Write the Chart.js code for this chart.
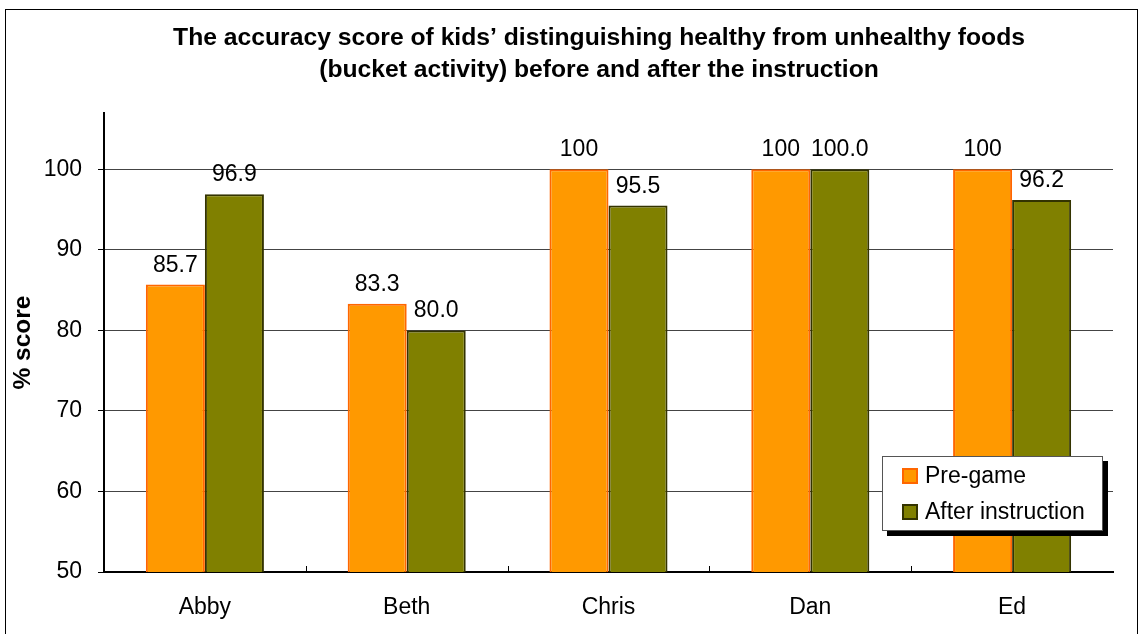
<!DOCTYPE html>
<html lang="en">
<head>
    <meta charset="UTF-8">
    <title>Bucket activity accuracy</title>
    <script src="https://cdn.jsdelivr.net/npm/chart.js"></script>
    <style>
        body {
            margin: 0;
            background: #fff;
            font-family: "Liberation Sans", Arial, sans-serif;
        }
        .wrap {
            position: relative;
            width: 1139px;
            height: 634px;
        }
        .legend {
            position: absolute;
            left: 882px;
            top: 456px;
            width: 219px;
            height: 73px;
            border: 1px solid #555;
            background: #fff;
            box-shadow: 5px 5px 0 #000;
            font-size: 23px;
            color: #000;
        }
        .legend .item {
            position: absolute;
            left: 19px;
            height: 26px;
            line-height: 26px;
            white-space: nowrap;
        }
        .legend .sw {
            display: inline-block;
            width: 12px;
            height: 12px;
            border: 2px solid;
            margin-right: 7px;
            vertical-align: -1px;
        }
    </style>
</head>
<body>
    <div class="wrap">
        <canvas id="scoreChart"></canvas>
        <div class="legend">
            <div class="item" style="top:5px"><span class="sw" style="background:#FF9900;border-color:#FF6600"></span>Pre-game</div>
            <div class="item" style="top:41px"><span class="sw" style="background:#808000;border-color:#333300"></span>After instruction</div>
        </div>
    </div>

    <script>
        const kids = ['Abby', 'Beth', 'Chris', 'Dan', 'Ed'];
        const preGame = [85.7, 83.3, 100, 100, 100];
        const afterInstruction = [96.9, 80.0, 95.5, 100.0, 96.2];
        const yTicks = [50, 60, 70, 80, 90, 100];
        const titleLines = ['The accuracy score of kids\u2019 distinguishing healthy from unhealthy foods',
                            '(bucket activity) before and after the instruction'];

        const FONT = '"Liberation Sans", Arial, sans-serif';

        // frame round the whole chart, and the title (centred a bit right, like the original)
        const framePlugin = {
            id: 'frame',
            beforeDraw(chart) {
                const ctx = chart.ctx;
                ctx.save();
                ctx.strokeStyle = '#000';
                ctx.lineWidth = 1;
                ctx.strokeRect(5.5, 9.5, 1132, 660);
                ctx.font = 'bold 24.7px ' + FONT;
                ctx.fillStyle = '#000';
                ctx.textAlign = 'center';
                ctx.textBaseline = 'alphabetic';
                ctx.fillText(titleLines[0], 599, 45);
                ctx.fillText(titleLines[1], 599, 77);
                ctx.restore();
            }
        };

        // value labels above bars + small inside ticks between categories
        const labelPlugin = {
            id: 'barLabels',
            afterDatasetsDraw(chart) {
                const ctx = chart.ctx;
                ctx.save();
                ctx.font = '23px ' + FONT;
                ctx.fillStyle = '#000';
                ctx.textAlign = 'center';
                ctx.textBaseline = 'alphabetic';
                chart.data.datasets.forEach((ds, di) => {
                    chart.getDatasetMeta(di).data.forEach((bar, i) => {
                        const v = ds.data[i];
                        const txt = di === 0 ? String(v) : v.toFixed(1);
                        ctx.fillText(txt, bar.x, bar.y - 13);
                    });
                });
                const xs = chart.scales.x;
                const bottom = chart.chartArea.bottom;
                ctx.strokeStyle = '#000';
                ctx.lineWidth = 1;
                for (let i = 1; i < kids.length; i++) {
                    const x = Math.round((xs.getPixelForTick(i - 1) + xs.getPixelForTick(i)) / 2) + 0.5;
                    ctx.beginPath();
                    ctx.moveTo(x, bottom);
                    ctx.lineTo(x, bottom - 6);
                    ctx.stroke();
                }
                ctx.restore();
            }
        };

        const ctx = document.getElementById('scoreChart').getContext('2d');
        new Chart(ctx, {
            type: 'bar',
            data: {
                labels: kids,
                datasets: [{
                    label: 'Pre-game',
                    data: preGame,
                    backgroundColor: '#FF9900',
                    borderColor: '#FF6600',
                    borderWidth: 2
                }, {
                    label: 'After instruction',
                    data: afterInstruction,
                    backgroundColor: '#808000',
                    borderColor: '#333300',
                    borderWidth: 2
                }]
            },
            options: {
                responsive: true,
                maintainAspectRatio: false,
                animation: false,
                datasets: {
                    bar: { categoryPercentage: 0.585, barPercentage: 1.0 }
                },
                layout: { padding: { left: 5, right: 26, top: 113, bottom: 0 } },
                plugins: {
                    legend: { display: false },
                    tooltip: { enabled: false },
                    title: { display: false }
                },
                scales: {
                    x: {
                        grid: { display: false, drawTicks: false },
                        border: { color: '#000', width: 2 },
                        ticks: { color: '#000', font: { family: FONT, size: 23 }, padding: 22 },
                        afterFit(scale) { scale.height = 62; }
                    },
                    y: {
                        min: 50,
                        max: 107,
                        afterBuildTicks(scale) {
                            scale.ticks = yTicks.map(v => ({ value: v }));
                        },
                        grid: { color: '#444', lineWidth: 1, tickColor: '#000', tickLength: 6 },
                        border: { color: '#000', width: 2 },
                        ticks: { color: '#000', font: { family: FONT, size: 23 }, padding: 16 },
                        title: {
                            display: true,
                            text: '% score',
                            color: '#000',
                            font: { family: FONT, size: 24.5, weight: 'bold' },
                            padding: { top: 4, bottom: 0 }
                        },
                        afterFit(scale) { scale.width = 99; }
                    }
                }
            },
            plugins: [framePlugin, labelPlugin]
        });
    </script>
</body>
</html>
